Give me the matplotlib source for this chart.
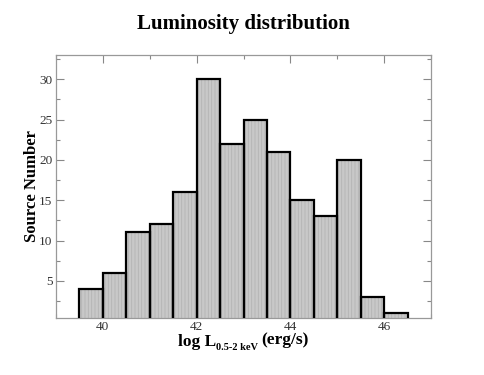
import matplotlib
matplotlib.use("Agg")
import matplotlib.pyplot as plt
from matplotlib.ticker import MultipleLocator
import numpy as np

bin_edges = [39.5, 40.0, 40.5, 41.0, 41.5, 42.0, 42.5, 43.0, 43.5, 44.0, 44.5, 45.0, 45.5, 46.0, 46.5]
counts = [4, 6, 11, 12, 16, 30, 22, 25, 21, 15, 13, 20, 3, 1]
title = "Luminosity distribution"
ylabel = "Source Number"
xlabel_parts = ["log L", "0.5-2 keV", "(erg/s)"]
xticks = [40, 42, 44, 46]
yticks = [5, 10, 15, 20, 25, 30]

plt.rcParams['font.family'] = ['Liberation Serif', 'DejaVu Serif']
plt.rcParams['hatch.linewidth'] = 0.6

W, H = 485, 375
fig = plt.figure(figsize=(W / 100, H / 100), dpi=100)
ax = fig.add_axes([56/W, 1-318/H, (431-56)/W, (318-55)/H])

lefts = np.array(bin_edges[:-1])
widths = np.diff(bin_edges)
ax.bar(lefts, counts, width=widths, align='edge', color='#c8c8c8',
       edgecolor='#b4b4b4', hatch='|||||', linewidth=0, zorder=2)
ax.bar(lefts, counts, width=widths, align='edge', fill=False,
       edgecolor='black', linewidth=1.6, zorder=3)

ax.set_xlim(39, 47)
ax.set_ylim(0.4, 33)
ax.set_xticks(xticks)
ax.set_yticks(yticks)
ax.xaxis.set_minor_locator(MultipleLocator(1))
ax.yaxis.set_minor_locator(MultipleLocator(2.5))
ax.tick_params(axis='both', which='both', direction='in', top=True, right=True,
               color='#888888', labelsize=9.5, labelcolor='#333333', pad=2.5)
ax.tick_params(which='major', length=6, width=0.8)
ax.tick_params(which='minor', length=3, width=0.8)
for s in ax.spines.values():
    s.set_color('#999999')
    s.set_linewidth(0.9)

fig.text(32/W, 1-186.5/H, ylabel, fontsize=12, fontweight='bold',
         rotation=90, ha='center', va='center')
fig.text(243.5/W, 1-24/H, title, fontsize=15, fontweight='bold',
         ha='center', va='center')

# x label composed of main text, subscript and units
renderer = fig.canvas.get_renderer()
t1 = fig.text(0, 29/H, xlabel_parts[0], fontsize=12.5, fontweight='bold', va='baseline')
t2 = fig.text(0, 25/H, xlabel_parts[1], fontsize=7.5, fontweight='bold', va='baseline')
t3 = fig.text(0, 30.5/H, xlabel_parts[2], fontsize=12.5, fontweight='bold', va='baseline')
w1 = t1.get_window_extent(renderer).width
w2 = t2.get_window_extent(renderer).width
w3 = t3.get_window_extent(renderer).width
gap = 3
total = w1 + w2 + gap + w3
x0 = 243.5 - total / 2
t1.set_x(x0 / W)
t2.set_x((x0 + w1) / W)
t3.set_x((x0 + w1 + w2 + gap) / W)

fig.savefig("out.png", dpi=100)
